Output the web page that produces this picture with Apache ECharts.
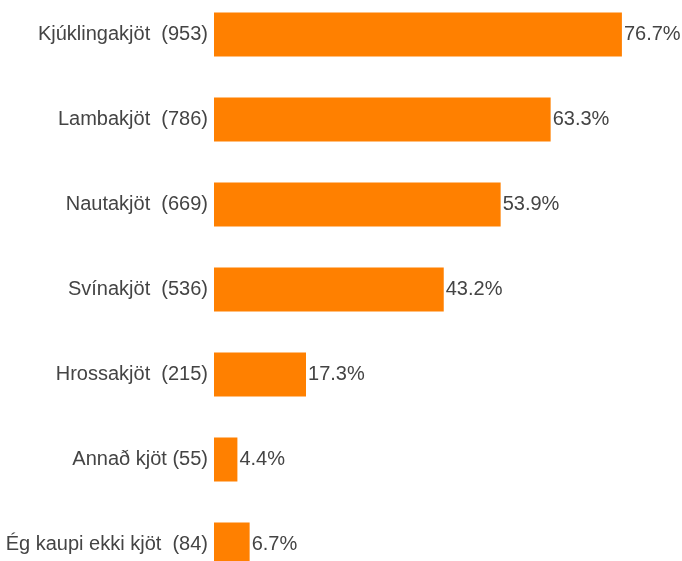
<!DOCTYPE html>
<html>
<head>
<meta charset="utf-8">
<script src="https://cdn.jsdelivr.net/npm/echarts@6/dist/echarts.min.js"></script>
<style>
  html, body { margin: 0; padding: 0; background: #fff; overflow: hidden; width: 682px; height: 561px; }
  #main { position: absolute; left: 0; top: -8px; width: 682px; height: 595px; }
</style>
</head>
<body>
<div id="main"></div>
<script>
var categories = [
    'Kjúklingakjöt  (953)',
    'Lambakjöt  (786)',
    'Nautakjöt  (669)',
    'Svínakjöt  (536)',
    'Hrossakjöt  (215)',
    'Annað kjöt (55)',
    'Ég kaupi ekki kjöt  (84)'
];
var percents = [76.7, 63.3, 53.9, 43.2, 17.3, 4.4, 6.7];

var myChart = echarts.init(document.getElementById('main'));

var option = {
    animation: false,
    grid: {
        left: 214,
        right: 0,
        top: 0,
        bottom: 0,
        containLabel: false
    },
    xAxis: {
        type: 'value',
        min: 0,
        max: 88,
        show: false
    },
    yAxis: {
        type: 'category',
        inverse: true,
        data: categories,
        axisLine: {show: false},
        axisTick: {show: false},
        axisLabel: {
            margin: 6,
            color: '#444',
            fontFamily: 'Liberation Sans',
            fontSize: 20
        }
    },
    series: [
        {
            type: 'bar',
            data: percents,
            barWidth: 44,
            itemStyle: {color: '#FF8000'},
            label: {
                show: true,
                position: 'right',
                distance: 2,
                color: '#444',
                fontFamily: 'Liberation Sans',
                fontSize: 20,
                formatter: function (p) { return p.value.toFixed(1) + '%'; }
            }
        }
    ]
};

myChart.setOption(option);
</script>
</body>
</html>
